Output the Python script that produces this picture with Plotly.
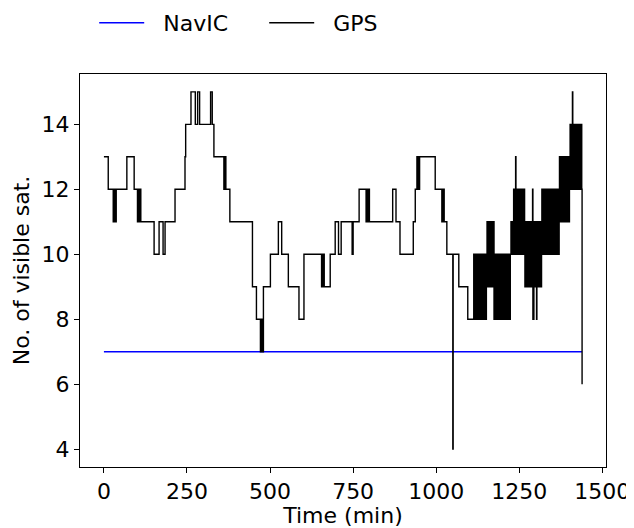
import numpy as np
import plotly.graph_objects as go

# ---- data ----
n_minutes = 1440
navic_value = 7

# GPS step change points: value holds from this minute onward
gps_change_t = [0, 13, 38, 69, 91, 111, 151, 166, 178, 184, 214, 244, 246, 262, 275, 282, 288,
                321, 326, 331, 368, 379, 447, 459, 480, 501, 525, 535, 555, 587, 602, 660, 663,
                681, 696, 706, 714, 747, 750, 768, 799, 869, 879, 891, 931, 937, 950, 997, 1017,
                1020, 1024, 1032, 1051, 1068, 1095]
gps_change_v = [13, 12, 12, 13, 12, 11, 10, 11, 10, 11, 12, 13, 14, 15, 14, 15, 14,
                15, 14, 13, 12, 11, 9, 8, 9, 10, 11, 10, 9, 8, 10, 10, 9,
                10, 11, 10, 11, 10, 11, 12, 11, 12, 11, 10, 11, 12, 13, 12, 11,
                12, 11, 10, 10, 9, 8]

# intervals where the count flickers between two values every minute
osc_start = [28, 101, 361, 471, 655, 789, 941, 1112, 1152, 1174, 1224, 1232, 1267, 1294, 1317, 1370, 1402]
osc_end   = [38, 111, 368, 480, 660, 799, 950, 1152, 1174, 1224, 1232, 1267, 1290, 1317, 1370, 1402, 1439]
osc_low   = [11, 11, 12, 7, 9, 11, 12, 8, 9, 8, 10, 10, 9, 9, 10, 11, 12]
osc_high  = [12, 12, 13, 8, 10, 12, 13, 10, 11, 10, 11, 12, 11, 11, 12, 13, 14]

# single-minute spikes
spike_t = [1050, 1239, 1290, 1291, 1302, 1410, 1439]
spike_v = [4, 13, 12, 8, 8, 15, 6]

x_ticks = [0, 250, 500, 750, 1000, 1250, 1500]
y_ticks = [4, 6, 8, 10, 12, 14]

# ---- build minute series ----
t = np.arange(n_minutes)
gps = np.zeros(n_minutes)
for i, ct in enumerate(gps_change_t):
    gps[ct:] = gps_change_v[i]
for s, e, lo, hi in zip(osc_start, osc_end, osc_low, osc_high):
    for m in range(s, e):
        gps[m] = lo if (m - s) % 2 == 0 else hi
for st, sv in zip(spike_t, spike_v):
    gps[st] = sv
navic = np.full(n_minutes, navic_value)

fig = go.Figure()
fig.add_trace(go.Scatter(x=t, y=navic, mode='lines', name='&nbsp;&nbsp;NavIC',
                         line=dict(color='#0000ff', width=1.5)))
fig.add_trace(go.Scatter(x=t, y=gps, mode='lines', name='&nbsp;&nbsp;GPS', line_shape='hv',
                         line=dict(color='black', width=1.4)))

axis_common = dict(showgrid=False, zeroline=False, showline=True, linecolor='black', linewidth=1,
                   mirror=True, ticks='outside', ticklen=5, tickcolor='black',
                   tickfont=dict(size=22, color='black'))
fig.update_xaxes(range=[-72, 1511], tickvals=x_ticks, ticktext=[str(v) for v in x_ticks],
                 title=dict(text='Time (min)', font=dict(size=22), standoff=10), **axis_common)
fig.update_yaxes(range=[3.45, 15.55], tickvals=y_ticks, ticktext=[str(v) for v in y_ticks],
                 title=dict(text='No. of visible sat.', font=dict(size=22), standoff=5), **axis_common)

fig.update_layout(width=626, height=520,
                  margin=dict(l=72, r=28, t=66, b=61, autoexpand=False),
                  plot_bgcolor='white', paper_bgcolor='white',
                  font=dict(family='DejaVu Sans', size=22, color='black'),
                  showlegend=True,
                  legend=dict(orientation='h', x=0.027, xanchor='left', y=1.13, yanchor='middle',
                              font=dict(size=22), itemwidth=45, entrywidth=110,
                              bgcolor='rgba(0,0,0,0)'))

fig.write_html('out.html')
